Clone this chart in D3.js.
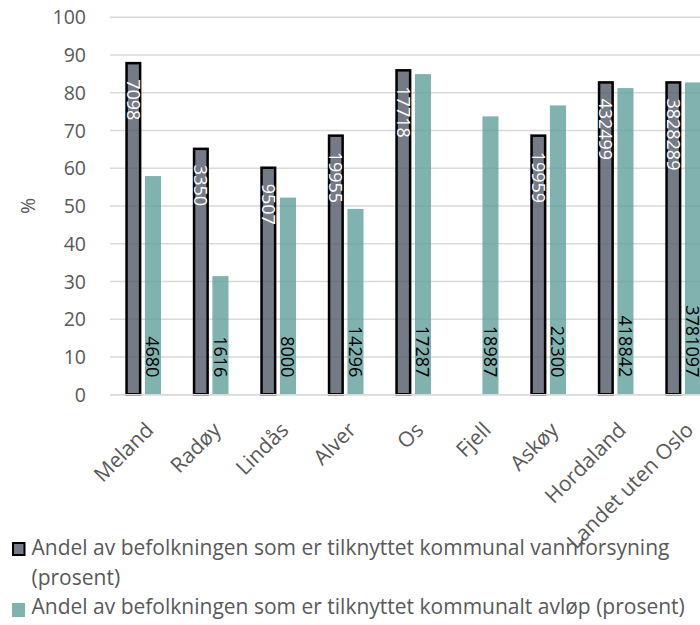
<!DOCTYPE html>
<html>
<head>
<meta charset="utf-8">
<script src="https://cdn.jsdelivr.net/npm/d3@7"></script>
<style>
  body { margin: 0; background: #fff; }
  text { font-family: "Open Sans", Lato, sans-serif; }
</style>
</head>
<body>
<div id="chart"></div>
<script>

let categories = ["Meland", "Radøy", "Lindås", "Alver", "Os", "Fjell", "Askøy", "Hordaland", "Landet uten Oslo"];
let vannforsyning = [87.7, 65.0, 60.0, 68.5, 85.8, null, 68.5, 82.6, 82.6];
let avlop = [57.8, 31.3, 52.1, 49.1, 84.8, 73.6, 76.5, 81.1, 82.6];
let vannLabels = ["7098", "3350", "9507", "19955", "17718", "", "19959", "432499", "3828289"];
let avlopLabels = ["4680", "1616", "8000", "14296", "17287", "18987", "22300", "418842", "3781097"];
let yTicks = [0, 10, 20, 30, 40, 50, 60, 70, 80, 90, 100];
let legendLabels = ["Andel av befolkningen som er tilknyttet kommunal vannforsyning", "(prosent)",
  "Andel av befolkningen som er tilknyttet kommunalt avløp (prosent)"];

let width = 700;
let height = 625;
let left = 110;
let step = 67.5;
let textColor = "#595959";

let chart = d3.select("#chart")
  .append("svg")
  .attr("width", width).attr("height", height);

let x0 = d3.scaleBand().domain(categories).range([left, left + step * categories.length]);
let x1 = d3.scaleBand().domain([0, 1]).range([15.3, 51]).paddingInner(0.18);
let y = d3.scaleLinear().domain([0, 100]).range([394.3, 16.7]);

// gridlines + tick labels
let yAxis = chart.append("g")
  .attr("transform", "translate(" + left + ",0)")
  .call(d3.axisLeft(y).tickValues(yTicks).tickSize(-620).tickPadding(24));
yAxis.select(".domain").remove();
yAxis.selectAll("line").attr("stroke", "#d9d9d9").attr("stroke-width", 1.5);
yAxis.selectAll("text")
  .attr("fill", textColor)
  .style("font-size", "19.5px")
  .attr("dy", "0.36em");

chart.append("text").text("%")
  .attr("transform", "translate(28,206) rotate(-90)")
  .attr("text-anchor", "middle")
  .attr("dy", "0.36em")
  .attr("fill", textColor)
  .style("font-size", "19.5px");

let bw = x1.bandwidth();
let idx = d3.range(categories.length);

// vannforsyning bars
chart.append("g").selectAll("rect")
  .data(idx.filter(i => vannforsyning[i] != null))
  .enter()
  .append("rect")
  .attr("x", i => x0(categories[i]) + x1(0) + 1.25)
  .attr("width", bw - 2.5)
  .attr("y", i => y(vannforsyning[i]))
  .attr("height", i => y(0) - y(vannforsyning[i]))
  .attr("fill", "#515968")
  .attr("fill-opacity", 0.8)
  .attr("stroke", "#000")
  .attr("stroke-width", 2.5);

// avløp bars
chart.append("g").selectAll("rect")
  .data(idx)
  .enter()
  .append("rect")
  .attr("x", i => x0(categories[i]) + x1(1))
  .attr("width", bw)
  .attr("y", i => y(avlop[i]))
  .attr("height", i => y(0) - y(avlop[i]))
  .attr("fill", "#60a09c")
  .attr("fill-opacity", 0.8);

// value labels
chart.append("g").selectAll("text")
  .data(idx.filter(i => vannforsyning[i] != null))
  .enter()
  .append("text")
  .text(i => vannLabels[i])
  .attr("transform", i => "translate(" + (x0(categories[i]) + x1(0) + bw / 2) + "," + (y(vannforsyning[i]) + 16) + ") rotate(90)")
  .attr("dy", "0.36em")
  .attr("fill", "#fff")
  .style("font-size", "18px");

chart.append("g").selectAll("text")
  .data(idx)
  .enter()
  .append("text")
  .text(i => avlopLabels[i])
  .attr("transform", i => "translate(" + (x0(categories[i]) + x1(1) + bw / 2) + "," + (y(0) - 17) + ") rotate(90)")
  .attr("text-anchor", "end")
  .attr("dy", "0.36em")
  .attr("fill", "#000")
  .style("font-size", "18px");

// category axis
let xAxis = chart.append("g")
  .attr("transform", "translate(0," + y(0) + ")")
  .call(d3.axisBottom(x0).tickSize(0).tickSizeOuter(0));
xAxis.select(".domain").attr("stroke", "#d9d9d9").attr("stroke-width", 1.5);
xAxis.selectAll("text")
  .attr("x", 0).attr("y", 0).attr("dy", 0)
  .attr("text-anchor", "end")
  .attr("transform", "translate(11,37) rotate(-45)")
  .attr("fill", textColor)
  .style("font-size", "21px");

// legend
let legend = chart.append("g");
legend.append("rect")
  .attr("x", 13).attr("y", 543).attr("width", 11.5).attr("height", 12)
  .attr("fill", "#515968").attr("fill-opacity", 0.8)
  .attr("stroke", "#000").attr("stroke-width", 2);
legend.append("rect")
  .attr("x", 12).attr("y", 603).attr("width", 13).attr("height", 14)
  .attr("fill", "#60a09c").attr("fill-opacity", 0.8);
legend.selectAll("text")
  .data(legendLabels)
  .enter()
  .append("text")
  .text(d => d)
  .attr("x", 31.5)
  .attr("y", (d, i) => [555, 584.5, 614][i])
  .attr("fill", textColor)
  .style("font-size", "21px");

</script>
</body>
</html>
